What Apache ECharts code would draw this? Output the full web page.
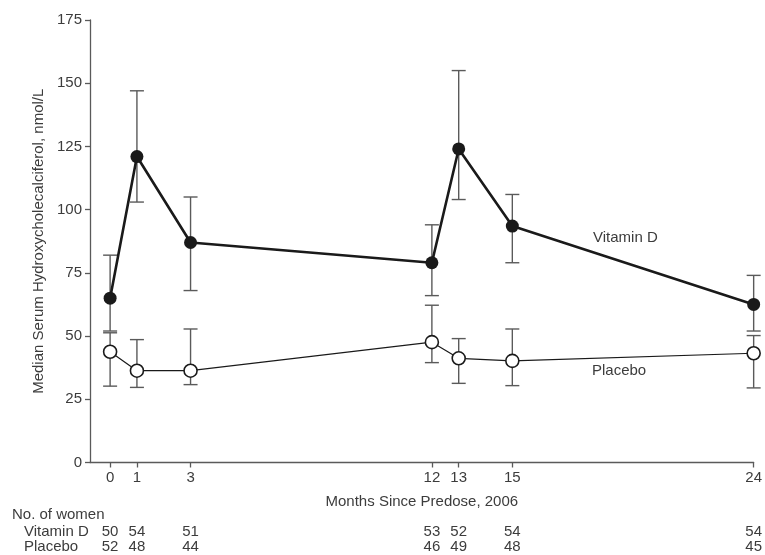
<!DOCTYPE html>
<html>
<head>
<meta charset="utf-8">
<script src="https://cdn.jsdelivr.net/npm/echarts@6/dist/echarts.min.js"></script>
<style>
html,body{margin:0;padding:0;background:#fff;}
#chart{width:765px;height:555px;}
</style>
</head>
<body>
<div id="chart"></div>
<script>
// ---- data ----
var months = [0, 1, 3, 12, 13, 15, 24];
var vitDMedian = [65, 121, 87, 79, 124, 93.5, 62.5];
var vitDLow    = [52, 103, 68, 66, 104, 79, 52];
var vitDHigh   = [82, 147, 105, 94, 155, 106, 74];
var placeboMedian = [43.8, 36.3, 36.3, 47.6, 41.2, 40.2, 43.2];
var placeboLow    = [30.2, 29.7, 30.8, 39.5, 31.3, 30.4, 29.5];
var placeboHigh   = [51.3, 48.6, 52.8, 62.2, 49, 52.8, 50.2];
var vitDCount    = [50, 54, 51, 53, 52, 54, 54];
var placeboCount = [52, 48, 44, 46, 49, 48, 45];
var yTicks = [0, 25, 50, 75, 100, 125, 150, 175];

var FONT = '"Liberation Sans", Arial, sans-serif';
var TXT = '#3c3c3c';
var AX = '#5a5a5a';

function pairs(xs, ys){ return xs.map(function(x,i){ return [x, ys[i]]; }); }
function triples(xs, lo, hi){ return xs.map(function(x,i){ return [x, lo[i], hi[i]]; }); }

function errRender(params, api){
  var x = api.value(0), lo = api.value(1), hi = api.value(2);
  var pH = api.coord([x, hi]), pL = api.coord([x, lo]);
  var w = 7;
  var st = {stroke: AX, lineWidth: 1.4};
  return {type:'group', children:[
    {type:'line', shape:{x1:pH[0], y1:pH[1], x2:pL[0], y2:pL[1]}, style:st},
    {type:'line', shape:{x1:pH[0]-w, y1:pH[1], x2:pH[0]+w, y2:pH[1]}, style:st},
    {type:'line', shape:{x1:pL[0]-w, y1:pL[1], x2:pL[0]+w, y2:pL[1]}, style:st}
  ]};
}

function countAxis(counts, offset){
  return {
    type:'value', gridIndex:0, position:'bottom', offset:offset,
    min:-0.75, max:24,
    axisLine:{show:false, onZero:false}, axisTick:{show:false}, splitLine:{show:false},
    axisLabel:{
      customValues: months, margin: 0,
      fontFamily: FONT, fontSize: 15, color: TXT,
      formatter: function(v){ var i = months.indexOf(v); return i >= 0 ? String(counts[i]) : ''; }
    }
  };
}

var chart = echarts.init(document.getElementById('chart'), null, {renderer:'canvas'});
chart.setOption({
  animation:false,
  backgroundColor:'#fff',
  grid:{left:90, right:10, top:20, bottom:92.5},
  xAxis:[{
    type:'value', min:-0.75, max:24,
    name:'Months Since Predose, 2006', nameLocation:'middle', nameGap:32,
    nameTextStyle:{fontFamily:FONT, fontSize:15, color:TXT},
    axisLine:{show:true, onZero:false, lineStyle:{color:AX, width:1.3}},
    axisTick:{show:true, customValues: months, length:5, lineStyle:{color:AX, width:1.3}},
    axisLabel:{customValues: months, margin:8, fontFamily:FONT, fontSize:15, color:TXT},
    splitLine:{show:false}
  },
  countAxis(vitDCount, 62),
  countAxis(placeboCount, 77)
  ],
  yAxis:{
    type:'value', min:0, max:175, interval:25,
    name:'Median Serum Hydroxycholecalciferol, nmol/L', nameLocation:'middle', nameGap:44,
    nameTextStyle:{fontFamily:FONT, fontSize:15, color:TXT},
    axisLine:{show:true, onZero:false, lineStyle:{color:AX, width:1.3}},
    axisTick:{show:true, length:5, lineStyle:{color:AX, width:1.3}},
    axisLabel:{margin:8, fontFamily:FONT, fontSize:15, color:TXT,
      formatter:function(v){ return yTicks.indexOf(v) >= 0 ? String(v) : ''; }},
    splitLine:{show:false}
  },
  series:[
    {type:'custom', name:'Vitamin D error', xAxisIndex:0, renderItem:errRender,
     data:triples(months, vitDLow, vitDHigh), z:1, silent:true},
    {type:'custom', name:'Placebo error', xAxisIndex:0, renderItem:errRender,
     data:triples(months, placeboLow, placeboHigh), z:1, silent:true},
    {type:'line', name:'Placebo', xAxisIndex:0, data:pairs(months, placeboMedian), z:3,
     symbol:'circle', symbolSize:13, showAllSymbol:true,
     lineStyle:{color:'#1a1a1a', width:1.2},
     itemStyle:{color:'#ffffff', borderColor:'#1a1a1a', borderWidth:1.6}},
    {type:'line', name:'Vitamin D', xAxisIndex:0, data:pairs(months, vitDMedian), z:4,
     symbol:'circle', symbolSize:13, showAllSymbol:true,
     lineStyle:{color:'#1a1a1a', width:2.6},
     itemStyle:{color:'#1a1a1a', borderColor:'#1a1a1a', borderWidth:0}}
  ],
  graphic:[
    {type:'text', left:593, top:230, style:{text:'Vitamin D', font:'15px ' + FONT, fill:TXT}},
    {type:'text', left:592, top:363, style:{text:'Placebo', font:'15px ' + FONT, fill:TXT}},
    {type:'text', left:12, top:507, style:{text:'No. of women', font:'15px ' + FONT, fill:TXT}},
    {type:'text', left:24, top:524, style:{text:'Vitamin D', font:'15px ' + FONT, fill:TXT}},
    {type:'text', left:24, top:539, style:{text:'Placebo', font:'15px ' + FONT, fill:TXT}}
  ]
});
</script>
</body>
</html>
